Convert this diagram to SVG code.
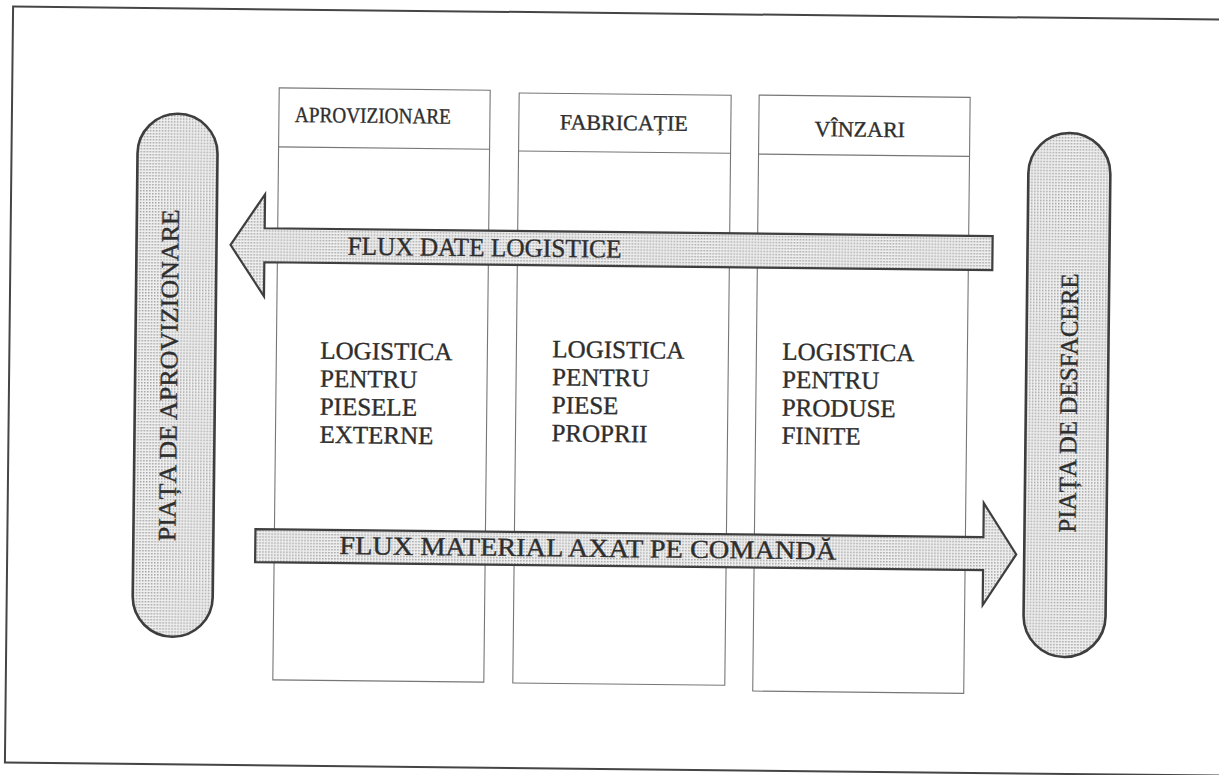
<svg xmlns="http://www.w3.org/2000/svg" width="1219" height="775" viewBox="0 0 1219 775">
  <defs>
    <!-- fine dot screen used for the shaded shapes -->
    <pattern id="dots" width="3" height="3" patternUnits="userSpaceOnUse">
      <rect width="3" height="3" fill="#f0f0f0"/>
      <rect width="1.5" height="1.5" fill="#a2a2a2"/>
    </pattern>
    <style>
      .frame { fill: none; stroke: #454545; stroke-width: 2; }
      .col { fill: none; stroke: #767676; stroke-width: 1.1; }
      .pill { fill: url(#dots); stroke: #3e3e3e; stroke-width: 2.6; }
      .flow { fill: url(#dots); stroke: #3f3f3f; stroke-width: 2.2; stroke-linejoin: miter; }
      text { font-family: "Liberation Serif", "Times New Roman", serif; fill: #2e2e2e; stroke: #2e2e2e; stroke-width: 0.35; }
      .head { font-size: 22px; text-anchor: middle; }
      .body { font-size: 25px; }
      .side { font-size: 25px; text-anchor: middle; }
      .flabel { font-size: 26px; }
    </style>
  </defs>

  <rect width="1219" height="775" fill="#ffffff"/>

  <g transform="rotate(0.62 610 388)">
    <!-- outer border -->
    <g id="frame">
      <rect class="frame" x="9" y="13" width="1240" height="756"/>
    </g>

    <!-- three functional columns -->
    <g id="col-aprovizionare">
      <rect class="col" x="276" y="91.5" width="211" height="592"/>
      <line class="col" x1="276" y1="150.5" x2="487" y2="150.5"/>
      <text class="head" x="370" y="125.5" textLength="156" lengthAdjust="spacingAndGlyphs">APROVIZIONARE</text>
      <text class="body">
        <tspan x="320" y="362">LOGISTICA</tspan>
        <tspan x="320" y="390">PENTRU</tspan>
        <tspan x="320" y="418">PIESELE</tspan>
        <tspan x="320" y="446">EXTERNE</tspan>
      </text>
    </g>

    <g id="col-fabricatie">
      <rect class="col" x="516" y="94" width="212" height="590"/>
      <line class="col" x1="516" y1="152" x2="728" y2="152"/>
      <text class="head" x="621" y="130">FABRICAȚIE</text>
      <text class="body">
        <tspan x="552" y="358">LOGISTICA</tspan>
        <tspan x="552" y="386">PENTRU</tspan>
        <tspan x="552" y="414">PIESE</tspan>
        <tspan x="552" y="442">PROPRII</tspan>
      </text>
    </g>

    <g id="col-vinzari">
      <rect class="col" x="756" y="93.5" width="211" height="596"/>
      <line class="col" x1="756" y1="152.5" x2="967" y2="152.5"/>
      <text class="head" x="857" y="134">VÎNZARI</text>
      <text class="body">
        <tspan x="782" y="358">LOGISTICA</tspan>
        <tspan x="782" y="386">PENTRU</tspan>
        <tspan x="782" y="414">PRODUSE</tspan>
        <tspan x="782" y="442">FINITE</tspan>
      </text>
    </g>

    <!-- flows between the two markets -->
    <g id="connectors">
      <g id="flow-data">
        <path class="flow" d="M229,249 L263,198 L263,232 L991,232 L991,266 L263,266 L263,300 Z"/>
        <text class="flabel" x="346" y="257.5" textLength="274" lengthAdjust="spacingAndGlyphs">FLUX DATE LOGISTICE</text>
      </g>
      <g id="flow-material">
        <path class="flow" d="M257,533 L985,533 L985,499 L1018,550 L985,601 L985,566 L257,566 Z"/>
        <text class="flabel" x="341" y="557" font-size="27" textLength="497" lengthAdjust="spacingAndGlyphs">FLUX MATERIAL AXAT PE COMANDĂ</text>
      </g>
    </g>

    <!-- supply market -->
    <g id="market-supply">
      <rect class="pill" x="135" y="118.5" width="80" height="523" rx="40" ry="40"/>
      <text class="side" transform="translate(177,380) rotate(-90)" x="0" y="0" textLength="332" lengthAdjust="spacingAndGlyphs">PIAȚA DE APROVIZIONARE</text>
    </g>

    <!-- sales market -->
    <g id="market-sales">
      <rect class="pill" x="1026" y="128" width="82" height="524" rx="41" ry="41"/>
      <text class="side" transform="translate(1077,398) rotate(-90)" x="0" y="0">PIAȚA DE DESFACERE</text>
    </g>
  </g>
</svg>
